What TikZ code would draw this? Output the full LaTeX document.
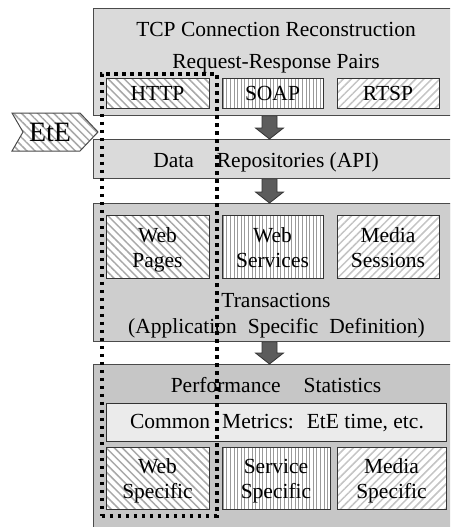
\documentclass[tikz,border=0pt]{standalone}
\usepackage{fontspec}
\setmainfont{Liberation Serif}
\usetikzlibrary{patterns.meta,calc}

\definecolor{panel}{HTML}{DADADA}
\definecolor{perfgray}{HTML}{C6C6C6}
\definecolor{edge}{HTML}{4A4A4A}
\definecolor{arrowfill}{HTML}{5C5C5C}
\definecolor{hatchA}{HTML}{A8A8A8}
\definecolor{hatchB}{HTML}{9A9A9A}
\definecolor{hatchC}{HTML}{C4C4C4}

\tikzset{
  panelbox/.style={draw=edge, line width=1.3pt, anchor=north west, inner sep=0pt},
  itembox/.style={draw=black!80, line width=1pt, anchor=north west, inner sep=0pt},
  webfill/.style={preaction={fill=white}, pattern={Lines[angle=-45,distance=5.7pt,line width=1.5pt]}, pattern color=hatchA},
  svcfill/.style={preaction={fill=white}, pattern={Lines[angle=90,distance=3.6pt,line width=0.8pt]}, pattern color=hatchB},
  medfill/.style={preaction={fill=white}, pattern={Lines[angle=45,distance=5.7pt,line width=1.5pt]}, pattern color=hatchC},
  stipple/.style n args={2}{preaction={fill=#1}, pattern={Dots[distance=2pt,radius=0.6pt]}, pattern color=#2},
  txt/.style={anchor=base, font=\fontsize{21.5}{25}\selectfont, inner sep=0pt},
  flowarrow/.style={draw=black!80, fill=arrowfill, line width=0.8pt},
  grpline/.style={draw=black, line width=3.6pt, dash pattern=on 3.6pt off 4.4pt, anchor=north west, inner sep=0pt},
}

\begin{document}
\begin{tikzpicture}[x=1pt,y=-1pt]
\clip (0,0) rectangle (450,527);

% layer panels
\node[panelbox, fill=panel, minimum width=370pt, minimum height=107pt] (tcp) at (93,8) {};
\node[panelbox, fill=panel, minimum width=370pt, minimum height=39pt] (repo) at (93,139) {};
\node[panelbox, stipple={black!14}{black!36}, minimum width=370pt, minimum height=138pt] (trans) at (93,203) {};
\node[panelbox, fill=perfgray, minimum width=370pt, minimum height=180pt] (perf) at (93,364) {};

% protocol boxes
\node[itembox, webfill, minimum width=103pt, minimum height=30pt] (http) at (106,78) {};
\node[itembox, svcfill, minimum width=101pt, minimum height=30pt] (soap) at (222,78) {};
\node[itembox, medfill, minimum width=102pt, minimum height=30pt] (rtsp) at (337,78) {};

% transaction boxes
\node[itembox, webfill, minimum width=103pt, minimum height=63pt] (webpg) at (106,215) {};
\node[itembox, svcfill, minimum width=101pt, minimum height=63pt] (websvc) at (222,215) {};
\node[itembox, medfill, minimum width=102pt, minimum height=63pt] (media) at (337,215) {};

% statistics boxes
\node[itembox, stipple={black!6}{black!14}, minimum width=340pt, minimum height=38pt] (common) at (106,403) {};
\node[itembox, webfill, minimum width=103pt, minimum height=62pt] (webspec) at (106,447) {};
\node[itembox, svcfill, minimum width=108pt, minimum height=62pt] (svcspec) at (222,447) {};
\node[itembox, medfill, minimum width=109pt, minimum height=62pt] (medspec) at (337,447) {};

% labels
\node[txt] (t1) at (276,37) {TCP Connection Reconstruction};
\node[txt] (t2) at (276,68) {Request-Response Pairs};
\node[txt] (thttp) at (157.5,100) {HTTP};
\node[txt] (tsoap) at (272.5,100) {SOAP};
\node[txt] (trtsp) at (388,100) {RTSP};
\node[txt] (trepo) at (266,167) {Data\hspace{23pt}Repositories (API)};
\node[txt] (tweb1) at (157.5,242) {Web};
\node[txt] (tweb2) at (157.5,267) {Pages};
\node[txt] (tsvc1) at (272.5,242) {Web};
\node[txt] (tsvc2) at (272.5,267) {Services};
\node[txt] (tmed1) at (388,242) {Media};
\node[txt] (tmed2) at (388,267) {Sessions};
\node[txt] (ttr1) at (276,307) {Transactions};
\node[txt] (ttr2) at (276.5,333) {(Application\hspace{11pt}Specific\hspace{11pt}Definition)};
\node[txt] (tperf) at (276,392) {Performance\hspace{23pt}Statistics};
\node[txt] (tcom) at (277,428) {Common\hspace{12pt}Metrics:\hspace{13pt}EtE time, etc.};
\node[txt] (tws1) at (157.5,473) {Web};
\node[txt] (tws2) at (157.5,498) {Specific};
\node[txt] (tss1) at (276,473) {Service};
\node[txt] (tss2) at (276,498) {Specific};
\node[txt] (tms1) at (391.5,473) {Media};
\node[txt] (tms2) at (391.5,498) {Specific};

% EtE tag
\path[draw=edge, line width=1pt, webfill] (12,113) -- (80,113) -- (98,132) -- (80,151) -- (12,151) -- (23,132) -- cycle;
\node[anchor=base, inner sep=0pt, font=\fontsize{28}{30}\selectfont] (ete) at (50,141) {EtE};

% block arrows between layers
\coordinate (ax) at (269.5,0);
\foreach \a/\b in {tcp/repo, repo/trans, trans/perf} {
  \draw[flowarrow] let \p1=(ax |- \a.south), \p2=(ax |- \b.north) in
    (\x1-7.5pt,\y1) -- (\x1+7.5pt,\y1) -- (\x1+7.5pt,\y2+11pt) -- (\x1+14pt,\y2+11pt)
    -- (\x1,\y2) -- (\x1-14pt,\y2+11pt) -- (\x1-7.5pt,\y2+11pt) -- cycle;
}

% web-specific group
\node[grpline, minimum width=115pt, minimum height=442pt] (grp) at (100,72) {};
\end{tikzpicture}
\end{document}
